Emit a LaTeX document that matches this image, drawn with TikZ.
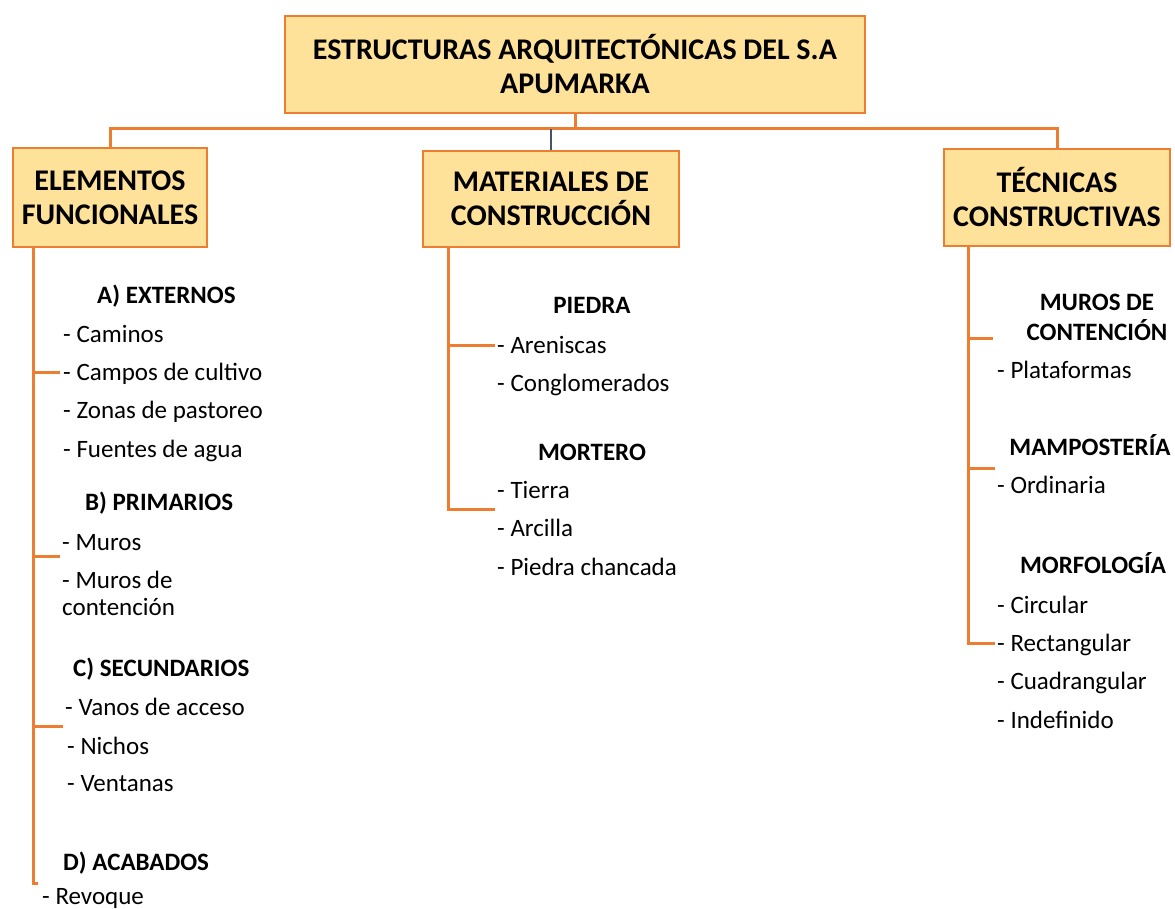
\documentclass[tikz,border=0pt]{standalone}
\usepackage{fontspec}
\setmainfont{Carlito}
\definecolor{boxfill}{HTML}{FFE29A}
\definecolor{boxline}{HTML}{ED7D31}
\definecolor{bluel}{HTML}{44546A}
\begin{document}
\begin{tikzpicture}[x=1pt,y=-1pt,
  hbox/.style={draw=boxline,line width=2pt,fill=boxfill,align=center,inner sep=0pt,
    font=\fontsize{30}{34}\selectfont\bfseries},
  conn/.style={draw=boxline,line width=3pt},
  itm/.style={anchor=base west,inner sep=0pt,font=\fontsize{25}{29}\selectfont},
  sub/.style={anchor=base west,inner sep=0pt,font=\fontsize{25}{29}\selectfont\bfseries},
  subc/.style={anchor=base,inner sep=0pt,font=\fontsize{25}{29}\selectfont\bfseries}]
\useasboundingbox (0,0) rectangle (1175,909);
% boxes
\node[hbox,minimum width=580pt,minimum height=97pt] (root) at (575,64.5) {ESTRUCTURAS ARQUITECTÓNICAS DEL S.A\\APUMARKA};
\node[hbox,minimum width=194pt,minimum height=99pt] (efun) at (110,197.5) {ELEMENTOS\\FUNCIONALES};
\node[hbox,minimum width=256pt,minimum height=96pt] (mat) at (551,199) {MATERIALES DE\\CONSTRUCCIÓN};
\node[hbox,minimum width=226pt,minimum height=97pt] (tec) at (1057,197.5) {TÉCNICAS\\CONSTRUCTIVAS};
% bus
\coordinate (bus) at (575,129);
\draw[conn] (root.south) -- (bus);
\draw[conn] (efun.north) -- (efun.north |- bus) -- (tec.north |- bus) -- (tec.north);
\draw[draw=bluel,line width=1.5pt] (mat.north) -- (mat.north |- bus);
% left column
\node[sub] (ea) at (97,303) {A) EXTERNOS};
\node[itm] (e1) at (63,342) {- Caminos};
\node[itm] (e2) at (63,380) {- Campos de cultivo};
\node[itm] (e3) at (63,418) {- Zonas de pastoreo};
\node[itm] (e4) at (63,457) {- Fuentes de agua};
\node[sub] (eb) at (85,510) {B) PRIMARIOS};
\node[itm] (e5) at (62,550) {- Muros};
\node[itm] (e6) at (62,588) {- Muros de};
\node[itm] (e7) at (62,615) {contención};
\node[sub] (ec) at (73,676) {C) SECUNDARIOS};
\node[itm] (e8) at (65,715) {- Vanos de acceso};
\node[itm] (e9) at (67,754) {- Nichos};
\node[itm] (e10) at (67,791) {- Ventanas};
\node[sub] (ed) at (63,870) {D) ACABADOS};
\node[itm] (e11) at (42,904) {- Revoque};
\coordinate (lA) at (60,372);
\coordinate (lB) at (60,556);
\coordinate (lC) at (63,726);
\coordinate (lD) at (38,883);
\coordinate (lS) at (33,247);
\draw[conn] (lS) -- (lS |- lD) -- (lD);
\draw[conn] (lS |- lA) -- (lA);
\draw[conn] (lS |- lB) -- (lB);
\draw[conn] (lS |- lC) -- (lC);
% middle column
\node[subc] (mp) at (592,313) {PIEDRA};
\node[itm] (m1) at (497,353) {- Areniscas};
\node[itm] (m2) at (497,391) {- Conglomerados};
\node[subc] (mm) at (592,460) {MORTERO};
\node[itm] (m3) at (497,498) {- Tierra};
\node[itm] (m4) at (497,536) {- Arcilla};
\node[itm] (m5) at (497,575) {- Piedra chancada};
\coordinate (mS) at (448,247);
\coordinate (mA) at (495,345);
\coordinate (mB) at (495,509);
\draw[conn] (mS) -- (mS |- mB) -- (mB);
\draw[conn] (mS |- mA) -- (mA);
% right column
\node[subc] (r1) at (1097,311) {MUROS DE};
\node[subc] (r2) at (1097,340) {CONTENCIÓN};
\node[itm] (r3) at (997,378) {- Plataformas};
\node[subc] (r4) at (1090,455) {MAMPOSTERÍA};
\node[itm] (r5) at (997,493) {- Ordinaria};
\node[subc] (r6) at (1093,573) {MORFOLOGÍA};
\node[itm] (r7) at (997,613) {- Circular};
\node[itm] (r8) at (997,651) {- Rectangular};
\node[itm] (r9) at (997,689) {- Cuadrangular};
\node[itm] (r10) at (997,728) {- Indefinido};
\coordinate (rS) at (968,246);
\coordinate (rA) at (993,338);
\coordinate (rB) at (995,468);
\coordinate (rC) at (995,643);
\draw[conn] (rS) -- (rS |- rC) -- (rC);
\draw[conn] (rS |- rA) -- (rA);
\draw[conn] (rS |- rB) -- (rB);
\end{tikzpicture}
\end{document}
